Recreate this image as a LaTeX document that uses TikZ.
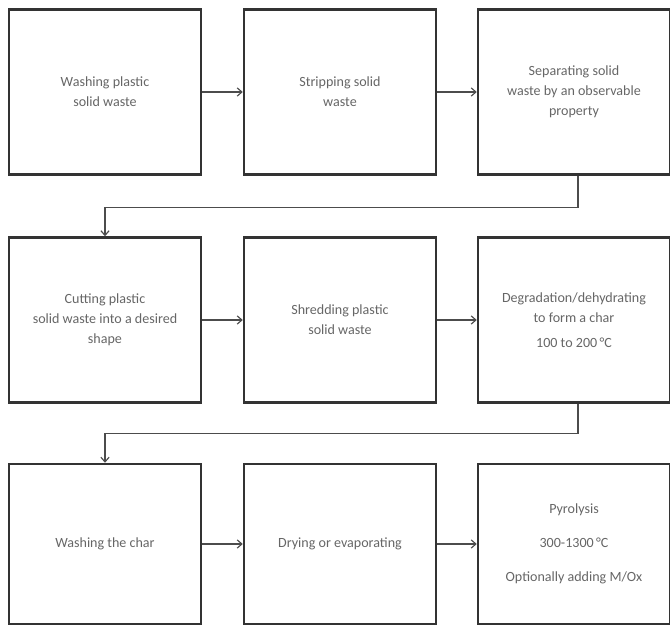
\documentclass[tikz,border=0pt]{standalone}
\usepackage{fontspec}
\setmainfont{Carlito}
\usepackage{tikz}
\usetikzlibrary{arrows.meta}

\tikzset{
  stepbox/.style={shape=rectangle, draw=black!80, line width=2.1pt,
    minimum width=192*0.03cm, minimum height=165*0.03cm,
    align=center, text=black!60, font=\fontsize{12}{17}\selectfont},
  flow/.style={-{Straight Barb[length=4pt, width=7pt]}, draw=black!70, line width=1pt},
}

\begin{document}
\begin{tikzpicture}[x=0.03cm, y=-0.03cm]
  \useasboundingbox (0, 0) rectangle (670, 628);
  \node (1x1) at (105, 92) [stepbox] {Washing plastic\\solid waste};
  \node (1x2) at (340, 92) [stepbox] {Stripping solid\\waste};
  \node (1x3) at (574, 92) [stepbox] {Separating solid\\waste by an observable\\property};
  \node (2x1) at (105, 320) [stepbox] {Cutting plastic\\solid waste into a desired\\shape};
  \node (2x2) at (340, 320) [stepbox] {Shredding plastic\\solid waste};
  \node (2x3) at (574, 320) [stepbox] {Degradation/dehydrating\\to form a char\\[4pt]100 to 200\,°C};
  \node (3x1) at (105, 544) [stepbox, minimum height=160*0.03cm] {Washing the char};
  \node (3x2) at (340, 544) [stepbox, minimum height=160*0.03cm] {Drying or evaporating};
  \node (3x3) at (574, 544) [stepbox, minimum height=160*0.03cm] {Pyrolysis\\[12pt]300-1300\,°C\\[12pt]Optionally adding M/Ox};
  \draw[flow] (1x1) -- (1x2);
  \draw[flow] (1x2) -- (1x3);
  \draw[flow] (2x1) -- (2x2);
  \draw[flow] (2x2) -- (2x3);
  \draw[flow] (3x1) -- (3x2);
  \draw[flow] (3x2) -- (3x3);
  \draw[flow] ([xshift=4*0.03cm]1x3.south) -- ++(0, 32) -| (2x1.north);
  \draw[flow] ([xshift=4*0.03cm]2x3.south) -- ++(0, 30) -| (3x1.north);
\end{tikzpicture}
\end{document}
